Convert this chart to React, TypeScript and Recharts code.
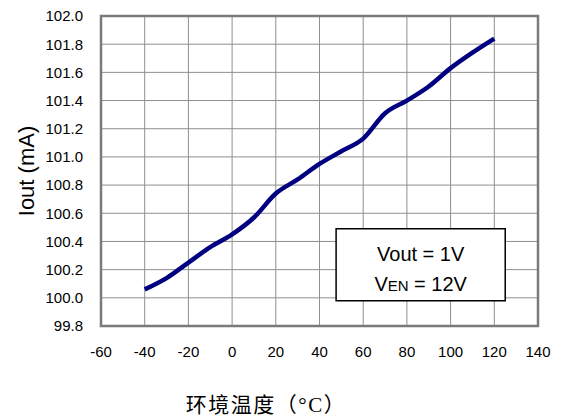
import { LineChart, Line, XAxis, YAxis, CartesianGrid, ReferenceArea } from "recharts";

// ambient temperature (°C) and output current (mA)
const temps = [-40, -30, -20, -10, 0, 10, 20, 30, 40, 50, 60, 70, 80, 90, 100, 110, 120];
const iout = [100.06, 100.14, 100.25, 100.36, 100.45, 100.57, 100.74, 100.84, 100.95, 101.04, 101.13, 101.31, 101.4, 101.5, 101.63, 101.74, 101.84];

const xTicks = [-60, -40, -20, 0, 20, 40, 60, 80, 100, 120, 140];
const yTicks = [99.8, 100.0, 100.2, 100.4, 100.6, 100.8, 101.0, 101.2, 101.4, 101.6, 101.8, 102.0];

// note box corners in data units
const noteX = [47.6, 125];
const noteY = [99.98, 100.49];

const data = temps.map((t, i) => ({ t, v: iout[i] }));

const axisFont = "Arial, 'Liberation Sans', sans-serif";

const NoteLabel = (props: any) => {
  const vb = props.viewBox || {};
  const cx = vb.x + vb.width / 2;
  return (
    <g fontFamily={axisFont} fill="#000" fontSize={20}>
      <text x={cx} y={vb.y + 32} textAnchor="middle">Vout = 1V</text>
      <text x={cx} y={vb.y + 62} textAnchor="middle">
        <tspan>V</tspan>
        <tspan fontSize={15}>EN</tspan>
        <tspan> = 12V</tspan>
      </text>
    </g>
  );
};

const YTitle = (props: any) => {
  const vb = props.viewBox || {};
  const x = vb.x + 26;
  const y = vb.y + vb.height / 2;
  return (
    <text x={x} y={y} transform={`rotate(-90 ${x} ${y})`} textAnchor="middle" dominantBaseline="central"
      fontFamily={axisFont} fontSize={22} fill="#000">
      Iout (mA)
    </text>
  );
};

const XTitle = (props: any) => {
  const vb = props.viewBox || {};
  return (
    <text x={vb.x + 165} y={vb.y + 86} textAnchor="middle" letterSpacing={1.5}
      fontFamily="'Liberation Serif', 'Noto Sans CJK SC', serif" fontSize={21} fill="#000">
      环境温度（°C）
    </text>
  );
};

export default function App() {
  return (
    <div style={{ position: "absolute", left: 0, top: 0, width: 561, height: 419, background: "#fff" }}>
      <LineChart width={561} height={419} data={data} margin={{ top: 16, right: 23, bottom: 0, left: 0 }}>
        <CartesianGrid stroke="#8f8f8f" strokeWidth={1} />
        <XAxis
          dataKey="t"
          type="number"
          domain={[-60, 140]}
          ticks={xTicks}
          height={93}
          tickSize={0}
          tickMargin={20}
          axisLine={false}
          tickLine={false}
          tick={{ fontSize: 15, fill: "#000", fontFamily: axisFont }}
          label={{ content: XTitle }}
        />
        <YAxis
          type="number"
          domain={[99.8, 102]}
          ticks={yTicks}
          width={101}
          tickSize={0}
          tickMargin={18}
          axisLine={false}
          tickLine={false}
          tickFormatter={(v: number) => v.toFixed(1)}
          tick={{ fontSize: 15, fill: "#000", fontFamily: axisFont }}
          label={{ content: YTitle }}
        />
        <ReferenceArea x1={-60} x2={140} y1={99.8} y2={102} fill="none" stroke="#7a7a7a" strokeWidth={2.5} fillOpacity={0} />
        <ReferenceArea
          x1={noteX[0]}
          x2={noteX[1]}
          y1={noteY[0]}
          y2={noteY[1]}
          fill="#fff"
          fillOpacity={1}
          stroke="#000"
          strokeWidth={1.5}
          label={<NoteLabel />}
        />
        <Line
          type="monotone"
          dataKey="v"
          stroke="#000080"
          strokeWidth={4.5}
          dot={false}
          isAnimationActive={false}
        />
      </LineChart>
    </div>
  );
}
